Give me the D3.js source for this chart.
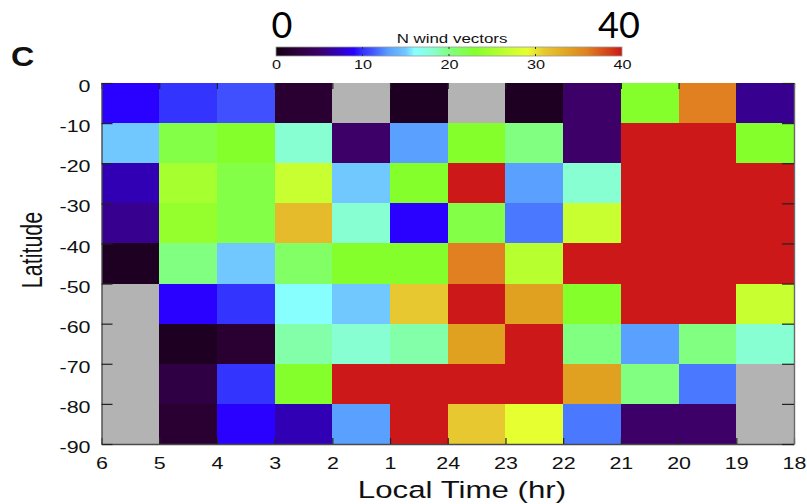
<!DOCTYPE html>
<html>
<head>
<meta charset="utf-8">
<script src="https://cdn.jsdelivr.net/npm/d3@7/dist/d3.min.js"></script>
<style>
  html, body { margin: 0; padding: 0; background: #ffffff; }
  svg { display: block; }
</style>
</head>
<body>
<svg id="chart" width="807" height="504"></svg>
<script>
// ---- Data -----------------------------------------------------------------
// Start hour of each 1-hour local-time bin (dawn back through midnight to dusk)
const timeBinStart = [6, 5, 4, 3, 2, 1, 24, 23, 22, 21, 20, 19];
// Upper edge of each 10-degree latitude band
const latBinTop = [0, -10, -20, -30, -40, -50, -60, -70, -80];

// Number of wind vectors per cell, one array per latitude band (null = no data)
const nLat0to10  = [9, 10, 11, 2, null, 1, null, 1, 5, 23, 36, 6];
const nLat10to20 = [15, 22, 23, 18, 5, 13, 23, 20, 5, 40, 40, 23];
const nLat20to30 = [7, 25, 22, 27, 15, 23, 40, 13, 18, 40, 40, 40];
const nLat30to40 = [6, 24, 22, 32, 18, 9, 22, 12, 27, 40, 40, 40];
const nLat40to50 = [1, 20, 15, 21, 23, 23, 36, 26, 40, 40, 40, 40];
const nLat50to60 = [null, 9, 10, 16, 15, 31, 40, 34, 23, 40, 40, 27];
const nLat60to70 = [null, 1, 2, 19, 18, 19, 34, 40, 20, 13, 20, 18];
const nLat70to80 = [null, 3, 10, 23, 40, 40, 40, 40, 34, 20, 12, null];
const nLat80to90 = [null, 2, 9, 7, 13, 40, 31, 29, 12, 5, 5, null];
const bandCounts = [nLat0to10, nLat10to20, nLat20to30, nLat30to40, nLat40to50,
                    nLat50to60, nLat60to70, nLat70to80, nLat80to90];

// Axis tick labels
const timeTicks = [6, 5, 4, 3, 2, 1, 24, 23, 22, 21, 20, 19, 18];
const latTicks = [0, -10, -20, -30, -40, -50, -60, -70, -80, -90];
const cbarTicks = [0, 10, 20, 30, 40];

// Colour map (count -> colour)
const cmapStops  = [0, 2, 5, 7, 9, 10, 11, 12, 13, 15, 16, 18, 20, 23, 27, 29, 31, 34, 36, 40];
const cmapColors = ["#120012", "#2a0032", "#3c0068", "#3200b4", "#2a00ff", "#3434ff",
                    "#4050ff", "#4a78ff", "#5aa0ff", "#70c8ff", "#88ffff", "#88ffd2",
                    "#80ff80", "#84ff2c", "#c8ff30", "#e6ff30", "#e8c830", "#e0a020",
                    "#e08020", "#cc1818"];
const noDataColor = "#b3b3b3";

// ---- Layout ---------------------------------------------------------------
const plot = { left: 101.5, right: 794, top: 83, bottom: 444 };
const SX = 1.3;                       // horizontal stretch of the lettering
const FONT = "'Liberation Sans', Arial, Helvetica, sans-serif";

const svg = d3.select("#chart");

// Local time runs 6 -> 1 -> 24 -> 18; unwrap early-morning hours past 24
const unwrap = h => (h <= 12 ? h + 24 : h);
const x = d3.scaleLinear().domain([30, 18]).range([plot.left, plot.right]);
const y = d3.scaleLinear().domain([0, -90]).range([plot.top, plot.bottom]);
const color = d3.scaleLinear().domain(cmapStops).range(cmapColors).clamp(true);

// ---- Cells ----------------------------------------------------------------
const cells = [];
bandCounts.forEach((row, i) => {
  row.forEach((n, j) => {
    cells.push({ t0: unwrap(timeBinStart[j]), lat0: latBinTop[i], n });
  });
});

svg.append("g")
  .attr("shape-rendering", "crispEdges")
  .selectAll("rect")
  .data(cells)
  .join("rect")
  .attr("x", d => x(d.t0))
  .attr("y", d => y(d.lat0))
  .attr("width", d => x(d.t0 - 1) - x(d.t0))
  .attr("height", d => y(d.lat0 - 10) - y(d.lat0))
  .attr("fill", d => (d.n == null ? noDataColor : color(d.n)));

// ---- Axes -----------------------------------------------------------------
function styleAxis(g) {
  g.select(".domain").attr("stroke", "#4a4a4a").attr("stroke-width", 1.4);
  g.selectAll(".tick line").attr("stroke", "#222").attr("stroke-width", 1.2);
  g.selectAll("text").attr("font-family", FONT).attr("fill", "#111");
}

const timeFmt = d => String(d > 24 ? d - 24 : d);
const latFmt = d => String(d);        // plain hyphen for negatives

// bottom axis with labels
const xAxis = svg.append("g")
  .attr("transform", `translate(0,${plot.bottom})`)
  .call(d3.axisBottom(x).tickValues(timeTicks.map(unwrap)).tickFormat(timeFmt)
        .tickSize(-6).tickPadding(13).tickSizeOuter(0));
styleAxis(xAxis);
xAxis.selectAll("text").attr("font-size", 16.5).attr("dy", "0.71em")
  .attr("transform", `scale(${SX},1)`);

// top axis, ticks only
const xTop = svg.append("g")
  .attr("transform", `translate(0,${plot.top})`)
  .call(d3.axisTop(x).tickValues(timeTicks.map(unwrap)).tickFormat("")
        .tickSize(-6).tickSizeOuter(0));
styleAxis(xTop);
xTop.select(".domain").attr("stroke", "none");

// left axis with labels
const yAxis = svg.append("g")
  .attr("transform", `translate(${plot.left},0)`)
  .call(d3.axisLeft(y).tickValues(latTicks).tickFormat(latFmt)
        .tickSize(-11).tickSizeOuter(0));
styleAxis(yAxis);
yAxis.selectAll("text")
  .attr("font-size", 16.5)
  .attr("x", 0)
  .attr("dy", "0.52em")
  .attr("transform", `translate(-11,0) scale(${SX},1)`);

// right axis, ticks only
const yRight = svg.append("g")
  .attr("transform", `translate(${plot.right},0)`)
  .call(d3.axisRight(y).tickValues(latTicks).tickFormat("").tickSize(-12).tickSizeOuter(0));
styleAxis(yRight);
yRight.select(".domain").attr("stroke", "#6a6a6a");

// ---- Axis titles ----------------------------------------------------------
svg.append("text")
  .attr("transform", `translate(462,498) scale(1.33,1)`)
  .attr("text-anchor", "middle")
  .attr("font-family", FONT).attr("font-size", 23.5).attr("fill", "#111")
  .text("Local Time (hr)");

svg.append("text")
  .attr("transform", `translate(42,250) scale(1.35,1) rotate(-90)`)
  .attr("text-anchor", "middle")
  .attr("font-family", FONT).attr("font-size", 21.5).attr("fill", "#111")
  .text("Latitude");

// Panel letter
svg.append("text")
  .attr("transform", `translate(11,66) scale(1.15,1)`)
  .attr("font-family", FONT).attr("font-size", 28).attr("font-weight", "bold")
  .attr("fill", "#111")
  .text("C");

// ---- Colour bar -----------------------------------------------------------
const cb = { left: 276, right: 622, top: 47, bottom: 56 };
const cx = d3.scaleLinear().domain([0, 40]).range([cb.left, cb.right]);

const grad = svg.append("defs").append("linearGradient")
  .attr("id", "cbarGrad").attr("x1", "0%").attr("x2", "100%");
grad.selectAll("stop")
  .data(cmapStops)
  .join("stop")
  .attr("offset", d => `${(d / 40) * 100}%`)
  .attr("stop-color", d => color(d));

svg.append("rect")
  .attr("x", cx(0)).attr("y", cb.top)
  .attr("width", cx(40) - cx(0)).attr("height", cb.bottom - cb.top)
  .attr("fill", "url(#cbarGrad)")
  .attr("stroke", "#9a9a9a").attr("stroke-width", 0.8);

// small tick marks on the colour bar
const cbTicks = svg.append("g");
cbTicks.selectAll("line.t")
  .data(cbarTicks.slice(1, -1))
  .join("line")
  .attr("x1", d => cx(d)).attr("x2", d => cx(d))
  .attr("y1", cb.top).attr("y2", cb.top + 2)
  .attr("stroke", "#333").attr("stroke-width", 1);
cbTicks.selectAll("line.b")
  .data(cbarTicks.slice(1, -1))
  .join("line")
  .attr("x1", d => cx(d)).attr("x2", d => cx(d))
  .attr("y1", cb.bottom - 2).attr("y2", cb.bottom)
  .attr("stroke", "#333").attr("stroke-width", 1);

const cAxis = svg.append("g")
  .attr("transform", `translate(0,${cb.bottom})`)
  .call(d3.axisBottom(cx).tickValues(cbarTicks).tickSize(0).tickPadding(4));
cAxis.select(".domain").remove();
cAxis.selectAll("text")
  .attr("font-family", FONT).attr("font-size", 12.5).attr("fill", "#111")
  .attr("transform", `scale(${SX},1)`);

svg.append("text")
  .attr("transform", `translate(452,43) scale(${SX},1)`)
  .attr("text-anchor", "middle")
  .attr("font-family", FONT).attr("font-size", 13).attr("fill", "#111")
  .text("N wind vectors");

// large range annotations above the colour bar
svg.append("text")
  .attr("x", cx(0) + 6).attr("y", 38)
  .attr("text-anchor", "middle")
  .attr("font-family", "Lato, 'Open Sans', sans-serif").attr("font-size", 36)
  .attr("fill", "#000")
  .text("0");
svg.append("text")
  .attr("x", cx(40) - 3).attr("y", 38)
  .attr("text-anchor", "middle")
  .attr("font-family", "Lato, 'Open Sans', sans-serif").attr("font-size", 36)
  .attr("fill", "#000")
  .text("40");
</script>
</body>
</html>
